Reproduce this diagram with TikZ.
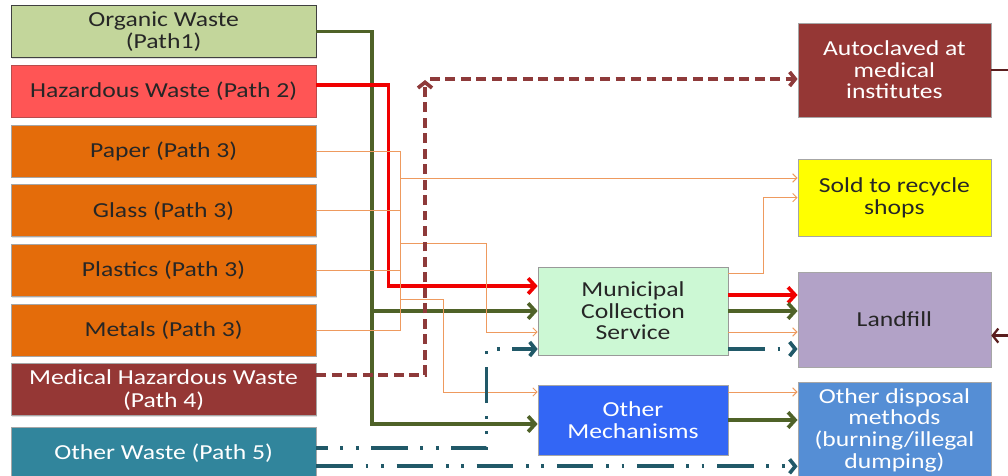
\documentclass[tikz,border=0pt]{standalone}
\usepackage{fontspec}
\setmainfont{Carlito}[FakeStretch=1.2]
\usetikzlibrary{positioning,arrows.meta,shadows}

\definecolor{organicfill}{HTML}{C3D69B}
\definecolor{hazfill}{HTML}{FF5555}
\definecolor{recyclefill}{HTML}{E46C0A}
\definecolor{medfill}{HTML}{953735}
\definecolor{otherfill}{HTML}{31859C}
\definecolor{munifill}{HTML}{CCF8D4}
\definecolor{mechfill}{HTML}{3366F5}
\definecolor{soldfill}{HTML}{FFFF00}
\definecolor{landfill}{HTML}{B2A2C7}
\definecolor{dispfill}{HTML}{558ED5}
\definecolor{greenline}{HTML}{4F6228}
\definecolor{redline}{HTML}{F00000}
\definecolor{orangeline}{HTML}{EE9A5E}
\definecolor{tealline}{HTML}{215968}
\definecolor{medline}{HTML}{8E3A3A}
\definecolor{backline}{HTML}{5A1E1E}

\begin{document}
\begin{tikzpicture}[
    wastebox/.style={
        rectangle,
        minimum width=7.625cm,
        minimum height=1.3cm,
        inner sep=2pt,
        draw=black!35,
        line width=0.5pt,
        align=center,
        text=black!85,
        font=\fontsize{15.2}{16.3}\selectfont,
        drop shadow={opacity=0.25,shadow xshift=0.6pt,shadow yshift=-0.8pt}
    },
    midbox/.style={
        wastebox,
        minimum width=4.75cm,
        font=\fontsize{15.2}{15.4}\selectfont
    },
    endbox/.style={
        wastebox,
        minimum width=4.825cm,
        font=\fontsize{15.2}{15.4}\selectfont
    },
    grnflow/.style={
        -{Straight Barb[length=5pt,width=11pt]},
        line width=2.6pt,
        draw=greenline
    },
    redflow/.style={
        -{Straight Barb[length=5pt,width=11pt]},
        line width=2.6pt,
        draw=redline
    },
    orgflow/.style={
        -{Straight Barb[length=3pt,width=6pt]},
        line width=0.7pt,
        draw=orangeline
    },
    medflow/.style={
        -{Straight Barb[length=4pt,width=10pt]},
        line width=2.6pt,
        draw=medline,
        dash pattern=on 7pt off 4pt
    },
    tealflow/.style={
        -{Straight Barb[length=4pt,width=10pt]},
        line width=2.6pt,
        draw=tealline,
        dash pattern=on 26pt off 9pt on 2pt off 9pt on 2pt off 9pt
    },
    node distance=0.175cm
]

% Fixed page size, same proportions as the original
\useasboundingbox (0,0) rectangle (25.2,-11.9);

% Waste streams on the left
\node[wastebox, fill=organicfill, draw=black!75] (org) at (4.09,-0.79) {Organic Waste\\(Path1)};
\node[wastebox, fill=hazfill, draw=red!60!black!70, below=of org] (haz) {Hazardous Waste (Path 2)};
\node[wastebox, fill=recyclefill, below=of haz] (paper) {Paper (Path 3)};
\node[wastebox, fill=recyclefill, below=of paper] (glass) {Glass (Path 3)};
\node[wastebox, fill=recyclefill, below=of glass] (plastics) {Plastics (Path 3)};
\node[wastebox, fill=recyclefill, below=of plastics] (metals) {Metals (Path 3)};
\node[wastebox, fill=medfill, text=white, below=of metals] (med) {Medical Hazardous Waste\\(Path 4)};
\node[wastebox, fill=otherfill, text=white, below=0.27cm of med] (other) {Other Waste (Path 5)};

% Collection in the middle
\node[midbox, fill=munifill, draw=black!40, minimum height=2.2cm] (mun) at (15.825,-7.775) {Municipal\\Collection\\Service};
\node[midbox, fill=mechfill, text=white, minimum height=1.75cm] (mech) at (15.825,-10.5) {Other\\Mechanisms};

% Final destinations on the right
\node[endbox, fill=medfill, text=white, minimum height=2.35cm] (auto) at (22.36,-1.75) {Autoclaved at\\medical\\institutes};
\node[endbox, fill=soldfill, minimum height=1.925cm] (sold) at (22.36,-4.94) {Sold to recycle\\shops};
\node[endbox, fill=landfill, minimum height=2.375cm] (lf) at (22.36,-7.99) {Landfill};
\node[endbox, fill=dispfill, text=white, minimum height=2.4cm] (disp) at (22.36,-10.75) {Other disposal\\methods\\(burning/illegal\\dumping)};

% Bends and entry points
\coordinate (gbus) at (9.3,0);
\coordinate (obus) at (10,0);
\coordinate (oj1) at (10,-6.075);
\coordinate (oj2) at (10,-7.475);
\coordinate (sbend) at (19.075,0);
\coordinate (medup) at (10.625,-2.0);
\coordinate (medturn) at (10.75,-1.975);
\coordinate (hazout) at ([yshift=0.15cm]haz.east);
\coordinate (medout) at ([yshift=0.375cm]med.east);
\coordinate (tealout1) at ([yshift=0.125cm]other.east);
\coordinate (tealout2) at ([yshift=-0.325cm]other.east);
\coordinate (munin1) at ([yshift=0.625cm]mun.west);
\coordinate (munin3) at ([yshift=-0.525cm]mun.west);
\coordinate (munin4) at ([yshift=-0.95cm]mun.west);
\coordinate (mechin1) at ([yshift=0.7cm]mech.west);
\coordinate (mechin2) at ([yshift=-0.1cm]mech.west);
\coordinate (soldin) at ([yshift=0.49cm]sold.west);
\coordinate (munout0) at ([yshift=-0.175cm]mun.north east);
\coordinate (munout1) at ([yshift=0.4cm]mun.east);
\coordinate (munout3) at ([yshift=-0.525cm]mun.east);
\coordinate (munout4) at ([yshift=-0.95cm]mun.east);
\coordinate (mechout1) at ([yshift=0.7cm]mech.east);
\coordinate (lfback) at ([yshift=-0.4cm]lf.east);

% Path 1 - organic
\draw[grnflow] (org.east) -| (gbus |- mechin2) -- (mechin2);
\draw[grnflow] (gbus |- mun.west) -- (mun.west);

% Path 2 - hazardous
\draw[redflow] (hazout) -- ++(1.8,0) |- (munin1);

% Path 3 - recyclables
\draw[orgflow, -] (paper.east) -| (obus |- metals.east) -- (metals.east);
\draw[orgflow, -] (glass.east) -- (obus |- glass.east);
\draw[orgflow, -] (plastics.east) -- (obus |- plastics.east);
\draw[orgflow] (obus |- soldin) -- (soldin);
\draw[orgflow] (oj1) -- ++(2.15,0) |- (munin3);
\draw[orgflow] (oj2) -- ++(1.075,0) |- (mechin1);

% Path 4 - medical
\draw[medflow] (medout) -| (medup);
\draw[medflow] (medturn) -- (auto.west |- medturn);

% Path 5 - other waste
\draw[tealflow, dash phase=18pt] (tealout1) -- ++(4.25,0) |- (munin4);
\draw[tealflow] (tealout2) -- (disp.west |- tealout2);

% From collection to disposal
\draw[orgflow] (munout0) -| (sbend |- sold.west) -- (sold.west);
\draw[redflow] (munout1) -- (munout1 -| lf.west);
\draw[grnflow] (mun.east) -- (mun.east -| lf.west);
\draw[orgflow] (munout3) -- (munout3 -| lf.west);
\draw[tealflow] (munout4) -- (munout4 -| lf.west);
\draw[orgflow] (mechout1) -- (mechout1 -| disp.west);
\draw[grnflow] (mech.east) -- (mech.east -| disp.west);

% Autoclaved residue back to landfill (runs off the page edge)
\draw[-{Straight Barb[length=4pt,width=10pt]}, line width=1.6pt, draw=backline] (auto.east) -- ++(0.8,0) |- (lfback);

\end{tikzpicture}
\end{document}
